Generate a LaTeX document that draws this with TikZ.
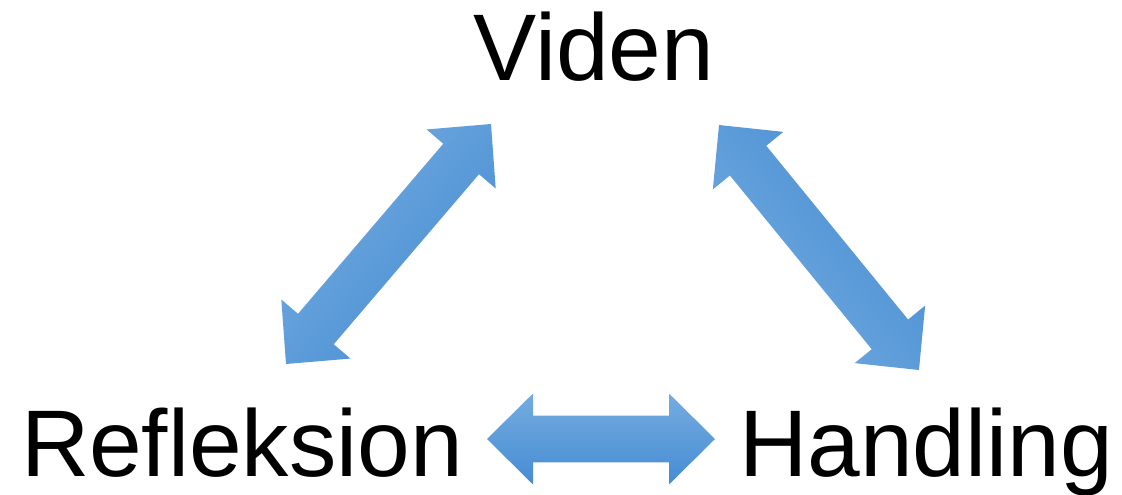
\documentclass[tikz,border=0pt]{standalone}
\usepackage{fontspec}
\setmainfont{Liberation Sans}
\usetikzlibrary{calc,positioning}
\definecolor{arrlight}{RGB}{116,172,224}
\definecolor{arrdark}{RGB}{70,140,211}
\tikzstyle{lbl}=[inner sep=0pt,anchor=base,font=\fontsize{71}{71}\selectfont]
\tikzstyle{fat}=[top color=arrlight,bottom color=arrdark,draw=none]
\newcommand{\arrhead}{34.5pt}
\newcommand{\arrwing}{34.1pt}
\newcommand{\arrshaft}{17.6pt}
% block arrow with a head at both ends: #1, #2 ends, #3 shading angle
\newcommand{\dblarr}[3]{%
  \shade[fat,shading angle=#3] (#1)
    -- ($(#1)!\arrhead!(#2)!\arrwing!90:(#2)$)
    -- ($(#1)!\arrhead!(#2)!\arrshaft!90:(#2)$)
    -- ($(#2)!\arrhead!(#1)!\arrshaft!-90:(#1)$)
    -- ($(#2)!\arrhead!(#1)!\arrwing!-90:(#1)$)
    -- (#2)
    -- ($(#2)!\arrhead!(#1)!\arrwing!90:(#1)$)
    -- ($(#2)!\arrhead!(#1)!\arrshaft!90:(#1)$)
    -- ($(#1)!\arrhead!(#2)!\arrshaft!-90:(#2)$)
    -- ($(#1)!\arrhead!(#2)!\arrwing!-90:(#2)$)
    -- cycle;}

\begin{document}
\begin{tikzpicture}[x=0.75pt,y=-0.75pt]
  \useasboundingbox (0,0) rectangle (1122,494);

  \node [lbl] (viden) at (594,80) {Viden};
  \node [lbl] (refl) at (242,476) {Refleksion};
  \node [lbl] (handl) at (926,476) {Handling};

  \coordinate (rv1) at (286,364);
  \coordinate (rv2) at (491,124);
  \coordinate (vh1) at (719,125);
  \coordinate (vh2) at (919,370);
  \coordinate (rh1) at (487,439);
  \coordinate (rh2) at (715,439);

  \dblarr{rv1}{rv2}{49.4}
  \dblarr{vh1}{vh2}{129.3}
  \dblarr{rh1}{rh2}{0}
\end{tikzpicture}
\end{document}
